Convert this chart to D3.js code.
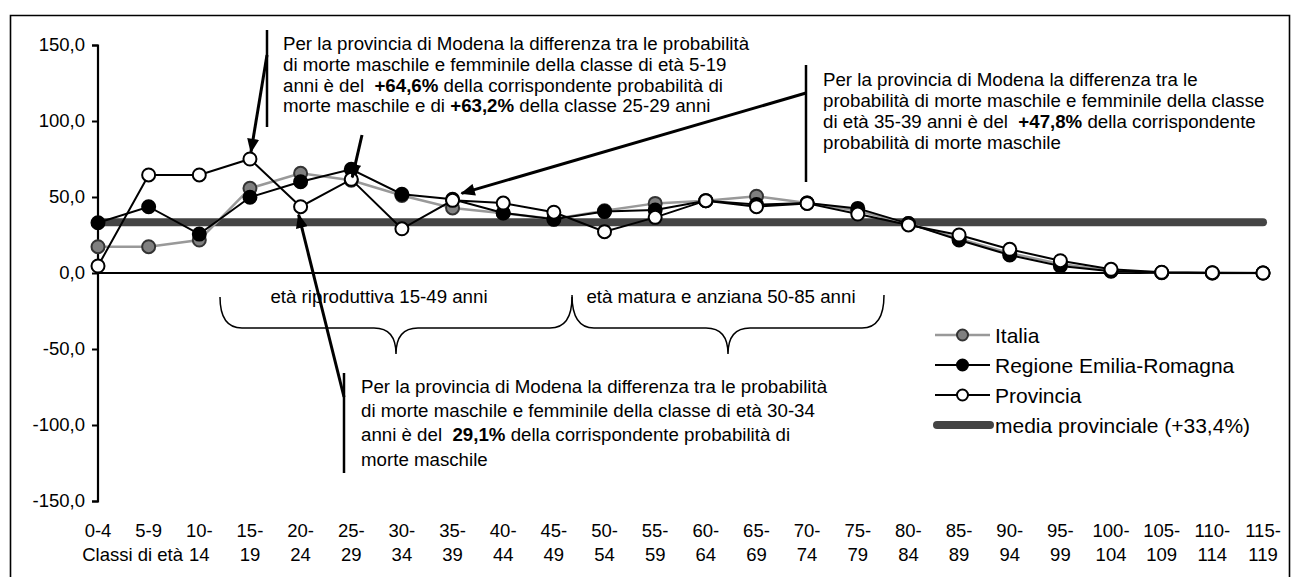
<!DOCTYPE html>
<head>
  <meta charset="utf-8">
  <script src="https://d3js.org/d3.v7.min.js"></script>
  <style type="text/css">
    body { margin:0; background:#fff; }
    svg text { font-family: "Liberation Sans", Arial, sans-serif; fill:#000; white-space: pre; }
    .tick-label { font-size: 18.5px; }
    .note { font-size: 18.7px; }
    .legend-label { font-size: 21px; }
    .line-italia { fill:none; stroke:#999; stroke-width:2.5; }
    .line-regione { fill:none; stroke:#000; stroke-width:2; }
    .line-provincia { fill:none; stroke:#000; stroke-width:2; }
    .media { stroke:#444; stroke-width:8; stroke-linecap:round; }
    .dot-italia { fill:#808080; stroke:#333; stroke-width:2; }
    .dot-regione { fill:#000; stroke:#000; stroke-width:2; }
    .dot-provincia { fill:#fff; stroke:#000; stroke-width:2; }
    .arrow { stroke:#000; stroke-width:3; fill:none; }
    .bar { stroke:#000; stroke-width:2.5; }
    .brace { fill:none; stroke:#000; stroke-width:1.5; }
  </style>
</head>

<body>
  <script>

// classi di età
var categories = ["0-4","5-9","10-14","15-19","20-24","25-29","30-34","35-39","40-44","45-49",
  "50-54","55-59","60-64","65-69","70-74","75-79","80-84","85-89","90-94","95-99",
  "100-104","105-109","110-114","115-119"];

var italia = [17.3, 17.3, 21.7, 55.7, 65.6, 61.0, 51.0, 42.8, 39.3, 35.5, 41.0, 45.8,
  47.6, 50.5, 46.0, 41.0, 32.5, 22.5, 13.0, 6.0, 1.5, 0.3, 0, 0];
var regione = [33.1, 43.6, 25.6, 49.8, 60.0, 68.2, 51.8, 48.5, 39.5, 35.3, 40.4, 41.4,
  47.6, 45.0, 46.0, 42.5, 32.5, 21.7, 11.8, 4.6, 1.2, 0.2, 0, 0];
var provincia = [4.6, 64.5, 64.5, 75.0, 43.6, 61.6, 29.1, 47.8, 46.0, 40.0, 27.2, 36.6,
  47.6, 43.6, 45.8, 38.8, 31.6, 25.0, 15.6, 8.1, 2.4, 0.5, 0.2, 0];
var mediaProvinciale = 33.4;

var yTicks = [-150, -100, -50, 0, 50, 100, 150];

var legendLabels = ["Italia", "Regione Emilia-Romagna", "Provincia", "media provinciale (+33,4%)"];

var width = 1296, height = 577;

var svg = d3.select("body").append("svg")
  .attr("width", width)
  .attr("height", height);

// frame
svg.append("path")
  .attr("d", "M10.5,600 V15.5 H1289.5 V600")
  .attr("fill", "none")
  .attr("stroke", "#000")
  .attr("stroke-width", 1.6);

var xScale = d3.scalePoint()
  .domain(categories)
  .range([98, 1263]);

var yScale = d3.scaleLinear()
  .domain([-150, 150])
  .range([501, 45]);

var fmt = function(v) { return d3.format(".1f")(v).replace(".", ",").replace("−", "-"); };

// y axis
var yAxis = svg.append("g")
  .attr("transform", "translate(98,0)")
  .call(d3.axisLeft(yScale).tickValues(yTicks).tickSize(6).tickPadding(7).tickFormat(fmt));
yAxis.select(".domain").attr("stroke", "#000").attr("stroke-width", 2.2).attr("d", "M-6,45.5H0V501.5H-6");
yAxis.selectAll(".tick line").attr("stroke", "#000").attr("stroke-width", 2);
yAxis.selectAll(".tick text").attr("class", "tick-label").attr("font-family", null).attr("font-size", null);

// x axis line at zero
svg.append("line")
  .attr("x1", xScale(categories[0]) - 2)
  .attr("x2", xScale(categories[categories.length - 1]) + 2)
  .attr("y1", yScale(0))
  .attr("y2", yScale(0))
  .attr("stroke", "#000")
  .attr("stroke-width", 2.2);

// category labels on two rows
var xl = svg.append("g");
categories.forEach(function(c) {
  var parts = c.split("-");
  var t = xl.append("text")
    .attr("class", "tick-label")
    .attr("text-anchor", "middle")
    .attr("x", xScale(c));
  if (+parts[0] < 10) {
    t.attr("y", 537).text(c);
  } else {
    t.attr("y", 537).text(parts[0] + "-");
    xl.append("text")
      .attr("class", "tick-label")
      .attr("text-anchor", "middle")
      .attr("x", xScale(c))
      .attr("y", 561)
      .text(parts[1]);
  }
});
xl.append("text")
  .attr("class", "tick-label")
  .attr("text-anchor", "end")
  .attr("x", 183)
  .attr("y", 561)
  .text("Classi di età");

// media provinciale
svg.append("line")
  .attr("class", "media")
  .attr("x1", xScale(categories[0]))
  .attr("x2", xScale(categories[categories.length - 1]))
  .attr("y1", yScale(mediaProvinciale))
  .attr("y2", yScale(mediaProvinciale));

var line = d3.line()
  .x(function(d, i) { return xScale(categories[i]); })
  .y(function(d) { return yScale(d); });

var series = [
  { name: "italia", values: italia },
  { name: "regione", values: regione },
  { name: "provincia", values: provincia }
];

series.forEach(function(s) {
  svg.append("path")
    .datum(s.values)
    .attr("class", "line-" + s.name)
    .attr("d", line);
  svg.selectAll(".dot-" + s.name)
    .data(s.values)
    .enter().append("circle")
    .attr("class", "dot-" + s.name)
    .attr("cx", function(d, i) { return xScale(categories[i]); })
    .attr("cy", function(d) { return yScale(d); })
    .attr("r", 6.5);
});

// arrowheads
svg.append("defs").append("marker")
  .attr("id", "head")
  .attr("viewBox", "0 0 12 10")
  .attr("refX", 11)
  .attr("refY", 5)
  .attr("markerUnits", "userSpaceOnUse")
  .attr("markerWidth", 15)
  .attr("markerHeight", 12)
  .attr("orient", "auto")
  .append("path")
  .attr("d", "M0,0 L12,5 L0,10 Z")
  .attr("fill", "#000");

function arrow(x1, y1, idx, dx, dy) {
  svg.append("line")
    .attr("class", "arrow")
    .attr("x1", x1).attr("y1", y1)
    .attr("x2", xScale(categories[idx]) + dx)
    .attr("y2", yScale(provincia[idx]) + dy)
    .attr("marker-end", "url(#head)");
}

// annotation blocks
function note(x, ys, lines, barX, barY1, barY2) {
  svg.append("line")
    .attr("class", "bar")
    .attr("x1", barX).attr("x2", barX)
    .attr("y1", barY1).attr("y2", barY2);
  lines.forEach(function(parts, i) {
    var t = svg.append("text")
      .attr("class", "note")
      .attr("x", x)
      .attr("y", ys[i] + 6.5);
    parts.forEach(function(p) {
      t.append("tspan")
        .attr("font-weight", p.b ? "bold" : null)
        .text(p.t);
    });
  });
}

note(283, [43, 64, 85, 105], [
  [{t: "Per la provincia di Modena la differenza tra le probabilità"}],
  [{t: "di morte maschile e femminile della classe di età 5-19"}],
  [{t: "anni è del  "}, {t: "+64,6%", b: true}, {t: " della corrispondente probabilità di"}],
  [{t: "morte maschile e di "}, {t: "+63,2%", b: true}, {t: " della classe 25-29 anni"}]
], 267, 30, 127);

note(823, [79, 100, 121, 142], [
  [{t: "Per la provincia di Modena la differenza tra le"}],
  [{t: "probabilità di morte maschile e femminile della classe"}],
  [{t: "di età 35-39 anni è del  "}, {t: "+47,8%", b: true}, {t: " della corrispondente"}],
  [{t: "probabilità di morte maschile"}]
], 806, 65, 182);

note(361, [386, 410, 434, 459], [
  [{t: "Per la provincia di Modena la differenza tra le probabilità"}],
  [{t: "di morte maschile e femminile della classe di età 30-34"}],
  [{t: "anni è del  "}, {t: "29,1%", b: true}, {t: " della corrispondente probabilità di"}],
  [{t: "morte maschile"}]
], 344, 373, 473);

arrow(267, 55, 3, 1, -7);
arrow(362, 135, 5, 1, -2);
arrow(806, 93, 7, 9, -7);
arrow(344, 397, 4, -2, 8);

// braces for age groups
function brace(xa, xb, top, mid, tip) {
  var xm = (xa + xb) / 2;
  var d = "M" + xa + "," + top +
    " Q" + xa + "," + mid + " " + (xa + 22) + "," + mid +
    " H" + (xm - 22) +
    " Q" + xm + "," + mid + " " + xm + "," + tip +
    " Q" + xm + "," + mid + " " + (xm + 22) + "," + mid +
    " H" + (xb - 22) +
    " Q" + xb + "," + mid + " " + xb + "," + top;
  svg.append("path").attr("class", "brace").attr("d", d);
}
brace(220, 572, 297, 328, 354);
brace(572, 884, 295, 328, 354);

svg.append("text").attr("class", "note").attr("text-anchor", "middle")
  .attr("x", 379).attr("y", 303).text("età riproduttiva 15-49 anni");
svg.append("text").attr("class", "note").attr("text-anchor", "middle")
  .attr("x", 721).attr("y", 303).text("età matura e anziana 50-85 anni");

// legend
var legend = svg.append("g").attr("transform", "translate(935,0)");
var legendY = [335, 365, 395, 425];
var legendCls = ["italia", "regione", "provincia"];
legendLabels.forEach(function(lab, i) {
  if (i < 3) {
    legend.append("line")
      .attr("class", "line-" + legendCls[i])
      .attr("x1", 0).attr("x2", 55)
      .attr("y1", legendY[i]).attr("y2", legendY[i]);
    legend.append("circle")
      .attr("class", "dot-" + legendCls[i])
      .attr("cx", 27.5).attr("cy", legendY[i])
      .attr("r", 5.5);
  } else {
    legend.append("line")
      .attr("class", "media")
      .attr("x1", 2).attr("x2", 55)
      .attr("y1", legendY[i]).attr("y2", legendY[i]);
  }
  legend.append("text")
    .attr("class", "legend-label")
    .attr("x", 60)
    .attr("y", legendY[i] + 7.5)
    .text(lab);
});

  </script>
</body>
